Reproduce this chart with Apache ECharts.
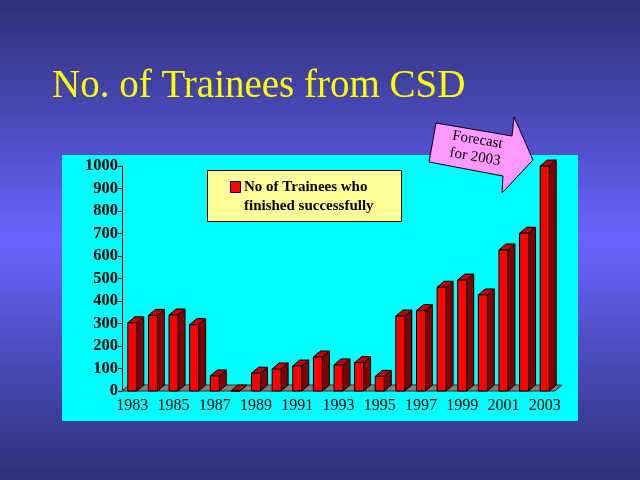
<!DOCTYPE html>
<html><head><meta charset="utf-8">
<script src="https://cdn.jsdelivr.net/npm/echarts@6/dist/echarts.min.js"></script>
<style>html,body{margin:0;padding:0;background:#3a3a90}#c{width:640px;height:480px}</style>
</head><body><div id="c"></div>
<script>
const years = ['1983','1984','1985','1986','1987','1988','1989','1990','1991','1992','1993','1994','1995','1996','1997','1998','1999','2000','2001','2002','2003'];
const trainees = [303, 336, 338, 295, 67, 0, 79, 98, 111, 151, 116, 126, 65, 333, 357, 461, 493, 427, 627, 701, 1000];
const yTicks = {min: 0, max: 1000, interval: 100};
const titleText = 'No. of Trainees from CSD';
const legendText = ['No of Trainees who', 'finished successfully'];
const forecastText = ['Forecast', 'for 2003'];

const serif = '"Liberation Serif","Times New Roman",serif';
const chart = echarts.init(document.getElementById('c'), null, {renderer: 'canvas'});

const DX = 7, DY = 6;

function barItem(params, api) {
  const cat = api.value(0), v = api.value(1);
  const top = api.coord([cat, v]);
  const bot = api.coord([cat, 0]);
  const w = 9;
  const x0 = top[0] - w / 2, x1 = top[0] + w / 2;
  const yt = top[1], yb = bot[1];
  const stroke = {stroke: '#000', lineWidth: 1};
  return {
    type: 'group',
    children: [
      {type: 'polygon', shape: {points: [[x1, yt], [x1 + DX, yt - DY], [x1 + DX, yb - DY], [x1, yb]]},
       style: Object.assign({fill: '#800000'}, stroke)},
      {type: 'polygon', shape: {points: [[x0, yt], [x0 + DX, yt - DY], [x1 + DX, yt - DY], [x1, yt]]},
       style: Object.assign({fill: '#c00000'}, stroke)},
      {type: 'rect', shape: {x: x0, y: yt, width: w, height: yb - yt},
       style: Object.assign({fill: '#ff0000'}, stroke)}
    ]
  };
}

function floorItem(params, api) {
  const cs = params.coordSys;
  const y0 = api.coord([0, 0])[1];
  const xl = cs.x, xr = cs.x + cs.width;
  return {
    type: 'polygon',
    shape: {points: [[xl, y0], [xl + DX, y0 - DY], [xr + DX, y0 - DY], [xr, y0]]},
    style: {fill: '#808080', stroke: '#303030', lineWidth: 1}
  };
}

const option = {
  animation: false,
  title: {
    text: titleText, left: 47, top: 62,
    textStyle: {fontFamily: serif, fontSize: 39, fontWeight: 'normal', color: '#ffff00'}
  },
  grid: {left: 122, right: 85, top: 166, bottom: 89, containLabel: false},
  xAxis: {
    type: 'category', data: years, boundaryGap: true,
    axisLine: {show: false}, axisTick: {show: false},
    axisLabel: {interval: 1, margin: 7, color: '#000', fontFamily: serif, fontSize: 16}
  },
  yAxis: {
    type: 'value', min: yTicks.min, max: yTicks.max, interval: yTicks.interval,
    splitLine: {show: false},
    axisLine: {show: true, lineStyle: {color: '#000', width: 1}},
    axisTick: {show: true, length: 4, lineStyle: {color: '#000'}},
    axisLabel: {margin: 4, color: '#000', fontFamily: serif, fontSize: 16.5, fontWeight: 'bold',
                formatter: v => String(v)}
  },
  graphic: [
    {type: 'rect', z: -100, silent: true, shape: {x: 0, y: 0, width: 640, height: 480},
     style: {fill: new echarts.graphic.LinearGradient(0, 0, 0, 1, [
       {offset: 0, color: '#2e2e74'}, {offset: 0.5, color: '#6666ff'}, {offset: 1, color: '#2e2e74'}])}},
    {type: 'rect', z: -99, silent: true, shape: {x: 62, y: 155, width: 516, height: 266},
     style: {fill: '#00ffff'}},
    {type: 'group', z: 10, children: [
      {type: 'rect', shape: {x: 207.5, y: 170.5, width: 194, height: 51},
       style: {fill: '#ffff99', stroke: '#000', lineWidth: 1}},
      {type: 'rect', shape: {x: 230.5, y: 181.5, width: 10, height: 11},
       style: {fill: '#ff0000', stroke: '#000', lineWidth: 1}},
      {type: 'text', x: 244, y: 177,
       style: {text: legendText.join('\n'), fill: '#000', font: 'bold 15px ' + serif,
               lineHeight: 19.5, verticalAlign: 'top', align: 'left'}}
    ]},
    {type: 'group', z: 10, children: [
      {type: 'polygon', shape: {points: [[436, 123], [512, 136], [514, 117], [533, 160], [502, 193], [503, 176], [429, 162]]},
       style: {fill: '#ff99ff', stroke: '#000', lineWidth: 1}},
      {type: 'text', x: 477.5, y: 140, rotation: -0.17,
       style: {text: forecastText[0], fill: '#000', font: '15px ' + serif, align: 'center', verticalAlign: 'middle'}},
      {type: 'text', x: 475, y: 157, rotation: -0.17,
       style: {text: forecastText[1], fill: '#000', font: '15px ' + serif, align: 'center', verticalAlign: 'middle'}}
    ]}
  ],
  series: [
    {type: 'custom', name: 'floor', z: 1, silent: true, renderItem: floorItem, data: [[0]]},
    {type: 'custom', name: legendText.join(' '), z: 3, renderItem: barItem,
     encode: {x: 0, y: 1},
     data: trainees.map((v, i) => [i, v])}
  ]
};
chart.setOption(option);
</script>
</body></html>
